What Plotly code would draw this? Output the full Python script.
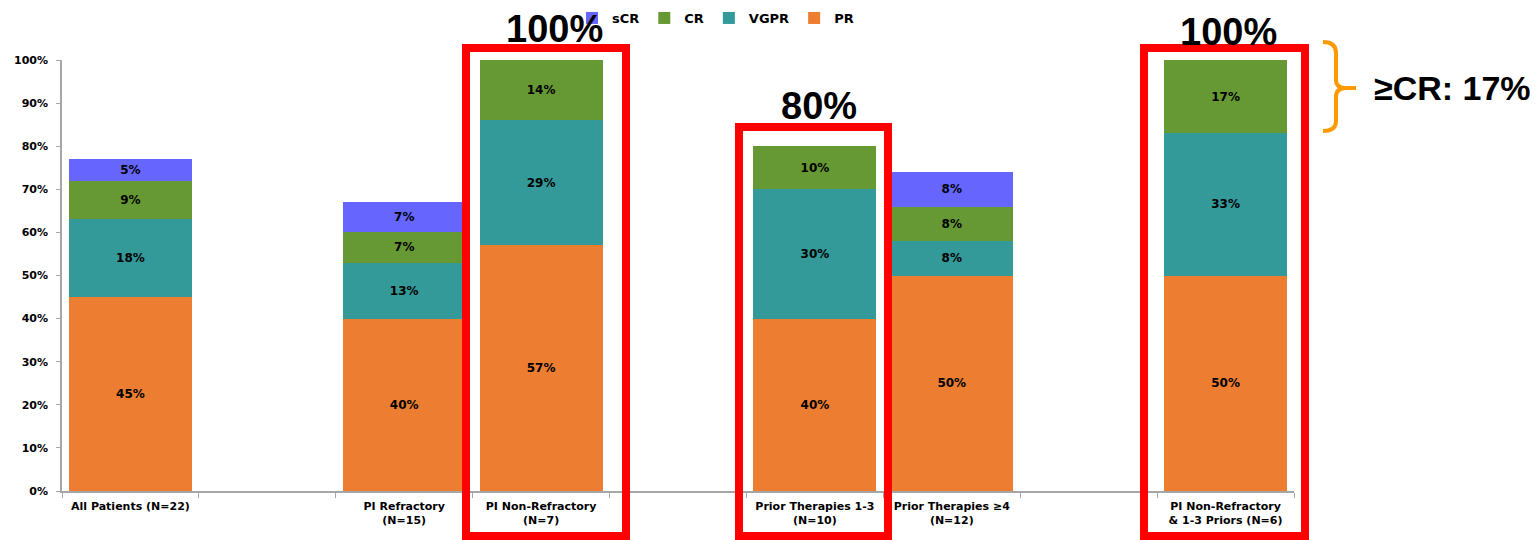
import plotly.graph_objects as go

# Response categories per patient subgroup (percent of patients)
groups = [
    "All Patients (N=22)",
    "PI Refractory<br>(N=15)",
    "PI Non-Refractory<br>(N=7)",
    "Prior Therapies 1-3<br>(N=10)",
    "Prior Therapies ≥4<br>(N=12)",
    "PI Non-Refractory<br>& 1-3 Priors (N=6)",
]
# empty spacer slots between the subgroups on the category axis
slots = [groups[0], " ", groups[1], groups[2], "  ", groups[3], groups[4], "   ", groups[5]]

pr = [45, 40, 57, 40, 50, 50]
vgpr = [18, 13, 29, 30, 8, 33]
cr = [9, 7, 14, 10, 8, 17]
scr = [5, 7, None, None, 8, None]

y_ticks = list(range(0, 101, 10))
y_tick_text = [f"{v}%" for v in y_ticks]

series = [
    ("PR", pr, "#ED7D31"),
    ("VGPR", vgpr, "#339999"),
    ("CR", cr, "#669933"),
    ("sCR", scr, "#6666FF"),
]

W, H = 1540, 540
ML, MR, MT, MB = 62, 246, 60, 49
PW, PH = W - ML - MR, H - MT - MB


def fx(px):
    return (px - ML) / PW


def fy(py):
    return (H - MB - py) / PH


FONT = "DejaVu Sans"
fig = go.Figure()
for name, vals, color in series:
    fig.add_trace(go.Bar(
        name=name,
        x=groups,
        y=vals,
        marker=dict(color=color, line=dict(width=0)),
        width=0.9,
        text=[f"{v}%" if v is not None else "" for v in vals],
        textposition="inside",
        insidetextanchor="middle",
        textangle=0,
        textfont=dict(family=FONT, size=12, color="black", weight="bold"),
        hoverinfo="skip",
    ))

# red highlight frames and the bracket for the complete-response share
shapes = []
for x0, x1, y0 in [(466, 626, 48), (739, 888, 127), (1144, 1305, 48)]:
    shapes.append(dict(
        type="rect", xref="paper", yref="paper",
        x0=fx(x0), x1=fx(x1), y0=fy(536), y1=fy(y0),
        line=dict(color="#FF0000", width=8), layer="above",
    ))

brace_pts = [
    ("M", 1323, 42), ("Q", 1336, 42, 1336, 53), ("L", 1336, 80),
    ("Q", 1336, 88, 1346, 88), ("L", 1356, 88), ("M", 1346, 88),
    ("Q", 1336, 88, 1336, 97), ("L", 1336, 121), ("Q", 1336, 131, 1323, 131),
]
path = ""
for seg in brace_pts:
    cmd, coords = seg[0], seg[1:]
    pairs = [f"{fx(coords[i]):.5f},{fy(coords[i + 1]):.5f}" for i in range(0, len(coords), 2)]
    path += cmd + " ".join(pairs) + " "
shapes.append(dict(
    type="path", xref="paper", yref="paper", path=path.strip(),
    line=dict(color="#FF9900", width=4), layer="above",
))

BIG = "Liberation Sans"
annotations = [
    dict(text="100%", x=fx(554), y=fy(29)),
    dict(text="80%", x=fx(819), y=fy(106)),
    dict(text="100%", x=fx(1228), y=fy(32)),
]
annotations = [
    dict(a, xref="paper", yref="paper", showarrow=False, xanchor="center", yanchor="middle",
         font=dict(family=BIG, size=38, color="black", weight="bold"))
    for a in annotations
]
annotations.append(dict(
    text="≥CR: 17%", xref="paper", yref="paper", x=fx(1372), y=fy(88),
    showarrow=False, xanchor="left", yanchor="middle",
    font=dict(family=BIG, size=34, color="black", weight="bold"),
))

fig.update_layout(
    width=W, height=H,
    margin=dict(l=ML, r=MR, t=MT, b=MB, pad=0, autoexpand=False),
    paper_bgcolor="white", plot_bgcolor="white",
    barmode="stack",
    bargap=0.1,
    showlegend=True,
    legend=dict(
        orientation="h", traceorder="reversed",
        x=fx(572), y=fy(3), xanchor="left", yanchor="top",
        font=dict(family=FONT, size=13, color="black", weight="bold"),
        bgcolor="rgba(0,0,0,0)",
    ),
    xaxis=dict(
        type="category", categoryorder="array", categoryarray=slots,
        range=[-0.5, 8.5],
        tickson="boundaries", ticks="outside", ticklen=5, tickcolor="#A6A6A6",
        showline=True, linecolor="#A6A6A6", linewidth=1.5,
        showgrid=False, zeroline=False,
        tickfont=dict(family=FONT, size=11, color="black", weight="bold"),
        ticklabelstandoff=4,
    ),
    yaxis=dict(
        range=[0, 100], tickvals=y_ticks, ticktext=y_tick_text,
        ticks="outside", ticklen=4, tickcolor="#A6A6A6",
        showline=True, linecolor="#A6A6A6", linewidth=1.5,
        showgrid=False, zeroline=False,
        tickfont=dict(family=FONT, size=11, color="black", weight="bold"),
        ticklabelstandoff=6,
    ),
    shapes=shapes,
    annotations=annotations,
)

fig.write_html("out.html")
